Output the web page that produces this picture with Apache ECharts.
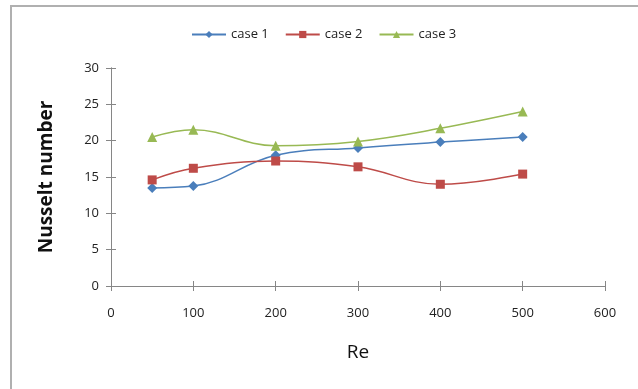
<!DOCTYPE html>
<html><head><meta charset="utf-8">
<script src="https://cdn.jsdelivr.net/npm/echarts@6/dist/echarts.min.js"></script>
<style>html,body{margin:0;padding:0;background:#fff}#c{width:638px;height:389px}</style>
</head><body><div id="c"></div>
<script>
var re = [50, 100, 200, 300, 400, 500];
var case1 = [13.5, 13.75, 18.0, 19.0, 19.8, 20.5];
var case2 = [14.6, 16.2, 17.2, 16.4, 14.0, 15.4];
var case3 = [20.5, 21.5, 19.3, 19.9, 21.7, 24.0];
var names = ['case 1', 'case 2', 'case 3'];

function pts(v){ return re.map(function(x,i){return [x, v[i]];}); }
var font = 'Open Sans, Liberation Sans, Arial, sans-serif';
var axisColor = '#868686';
var chart = echarts.init(document.getElementById('c'));
var gridDef = {left:111, right:33, top:68, bottom:103};
chart.setOption({
  animation:false,
  graphic:[{type:'rect', shape:{x:11, y:6, width:640, height:400}, style:{fill:'none', stroke:'#b0b0b0', lineWidth:2}, silent:true}],
  legend:{top:23, left:186, itemGap:16, itemWidth:34, itemHeight:9, textStyle:{fontFamily:font, fontSize:13, color:'#222'}, data:names},
  grid:[gridDef, gridDef],
  xAxis:[
    {type:'value', gridIndex:0, min:0, max:600, interval:100, name:'Re', nameLocation:'middle', nameGap:57,
     nameTextStyle:{fontFamily:font, fontSize:19, color:'#111'},
     axisLine:{lineStyle:{color:axisColor, width:1}}, axisTick:{length:5, lineStyle:{color:axisColor}},
     axisLabel:{fontFamily:font, fontSize:13, color:'#222', margin:21}, splitLine:{show:false}},
    {type:'value', gridIndex:1, min:0, max:600, interval:100, position:'bottom',
     axisLine:{show:true, lineStyle:{color:axisColor}}, axisTick:{show:true, inside:true, length:5, lineStyle:{color:axisColor}}, axisLabel:{show:false}, splitLine:{show:false}}
  ],
  yAxis:[
    {type:'value', gridIndex:0, min:0, max:30, interval:5, name:'Nusselt number', nameLocation:'middle', nameGap:55,
     nameTextStyle:{fontFamily:font, fontSize:19, fontWeight:'bold', color:'#111'},
     axisLine:{show:true, lineStyle:{color:axisColor, width:1}}, axisTick:{show:true, length:5, lineStyle:{color:axisColor}},
     axisLabel:{fontFamily:font, fontSize:13, color:'#222', margin:12}, splitLine:{show:false}},
    {type:'value', gridIndex:1, min:0, max:30, interval:5, position:'left',
     axisLine:{show:true, lineStyle:{color:axisColor}}, axisTick:{show:true, inside:true, length:5, lineStyle:{color:axisColor}}, axisLabel:{show:false}, splitLine:{show:false}}
  ],
  series:[
    {name:names[0], type:'line', smooth:0.4, data:pts(case1), symbol:'diamond', symbolSize:10,
     itemStyle:{color:'#4A7EBB'}, lineStyle:{width:1.5, color:'#4A7EBB'}},
    {name:names[1], type:'line', smooth:0.4, data:pts(case2), symbol:'rect', symbolSize:9,
     itemStyle:{color:'#BE4B48'}, lineStyle:{width:1.5, color:'#BE4B48'}},
    {name:names[2], type:'line', smooth:0.4, data:pts(case3), symbol:'triangle', symbolSize:10,
     itemStyle:{color:'#98B954'}, lineStyle:{width:1.5, color:'#98B954'}},
    {name:'ticks', type:'line', xAxisIndex:1, yAxisIndex:1, data:[], silent:true}
  ]
});
</script></body></html>
